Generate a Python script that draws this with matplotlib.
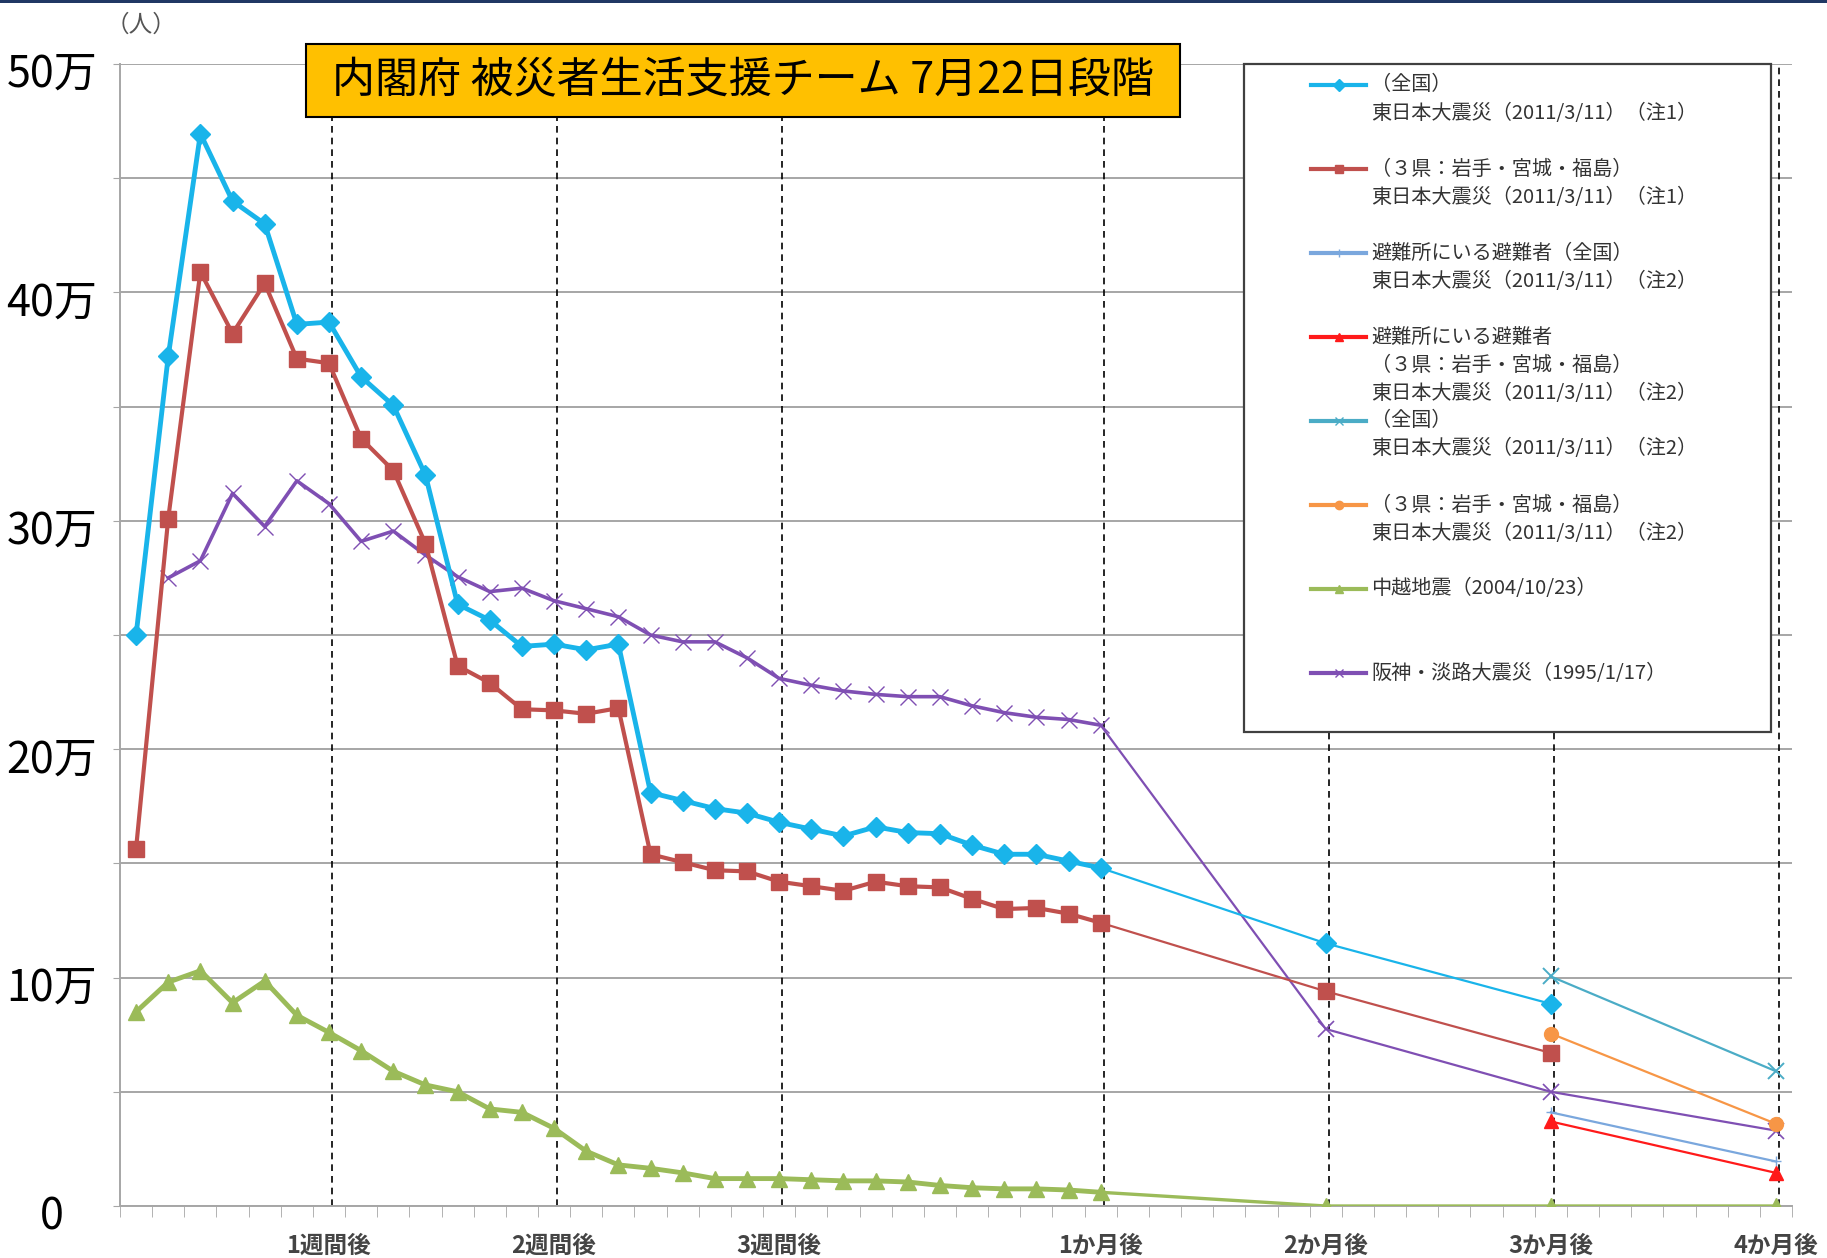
import matplotlib
matplotlib.use('Agg')
import matplotlib.pyplot as plt
import matplotlib.transforms as mtransforms
from matplotlib.lines import Line2D
from matplotlib.patches import Rectangle
import numpy as np

plt.rcParams['font.family'] = ['Noto Sans CJK JP', 'DejaVu Sans']

# ---- data (unit: 万人) ----
# category positions: day 0..30, then 2/3/4 months
day_idx = list(range(31))
month_idx = [37, 44, 51]          # 2か月後, 3か月後, 4か月後
tick_pos = [6, 13, 20, 30, 37, 44, 51]
tick_labels = ['1週間後', '2週間後', '3週間後', '1か月後', '2か月後', '3か月後', '4か月後']

# 東日本大震災 (全国) 注1
zenkoku_days = [25.0, 37.2, 46.95, 44.0, 43.0, 38.6, 38.7, 36.3, 35.05, 32.0,
                26.35, 25.65, 24.5, 24.6, 24.35, 24.6, 18.1, 17.75, 17.4, 17.2,
                16.8, 16.5, 16.2, 16.6, 16.35, 16.3, 15.8, 15.4, 15.4, 15.1, 14.8]
zenkoku_months = [11.5, 8.85]            # 2か月後, 3か月後

# 東日本大震災 (3県) 注1
sanken_days = [15.65, 30.1, 40.9, 38.2, 40.4, 37.1, 36.9, 33.6, 32.2, 29.0,
               23.65, 22.9, 21.75, 21.7, 21.55, 21.8, 15.4, 15.05, 14.7, 14.65,
               14.2, 14.0, 13.8, 14.2, 14.0, 13.95, 13.45, 13.0, 13.05, 12.8, 12.4]
sanken_months = [9.4, 6.7]

# 阪神・淡路大震災 (day 1..30)
hanshin_idx = list(range(1, 31))
hanshin_days = [27.5, 28.25, 31.2, 29.75, 31.75, 30.75, 29.1, 29.55, 28.5, 27.55,
                26.9, 27.05, 26.5, 26.15, 25.8, 25.0, 24.7, 24.7, 24.0, 23.1,
                22.8, 22.55, 22.4, 22.3, 22.3, 21.9, 21.6, 21.4, 21.3, 21.05]
hanshin_months = [7.75, 5.0, 3.3]

# 中越地震
chuetsu_days = [8.5, 9.8, 10.3, 8.9, 9.85, 8.35, 7.6, 6.8, 5.9, 5.3,
                5.0, 4.25, 4.1, 3.4, 2.4, 1.8, 1.65, 1.45, 1.2, 1.2,
                1.2, 1.15, 1.1, 1.1, 1.05, 0.9, 0.8, 0.75, 0.75, 0.7, 0.6]
chuetsu_months = [0.0, 0.0, 0.0]

# 注2 series (3か月後, 4か月後)
zenkoku2 = [10.05, 5.9]
sanken2 = [7.55, 3.6]
shelter_zenkoku = [4.1, 1.95]
shelter_sanken = [3.7, 1.45]

c_cyan = '#19B4EA'
c_brown = '#C0504D'
c_purple = '#7F4FB3'
c_green = '#9BBB59'
c_teal = '#4BACC6'
c_orange = '#F79646'
c_red = '#FF1A1A'
c_lblue = '#7AA7DD'

W, H = 1827, 1258
fig = plt.figure(figsize=(W / 100, H / 100), dpi=100)
ax = fig.add_axes([120 / W, 1 - 1206 / H, 1672 / W, 1142 / H])

# dashed verticals
for p in tick_pos:
    ax.axvline(p + 0.1, color='black', lw=1.2, dashes=(4, 3), zorder=1)

# thick daily lines
ax.plot(hanshin_idx, hanshin_days, color=c_purple, lw=2.6, marker='x', ms=11,
        mew=1.0, zorder=3)
ax.plot(day_idx, chuetsu_days, color=c_green, lw=3.5, marker='^', ms=12, zorder=3)
ax.plot(day_idx, sanken_days, color=c_brown, lw=3.0, marker='s', ms=12, zorder=4)
ax.plot(day_idx, zenkoku_days, color=c_cyan, lw=3.5, marker='D', ms=10, zorder=5)

# thin monthly continuation
ax.plot([30] + month_idx[:2], [zenkoku_days[-1]] + zenkoku_months, color=c_cyan,
        lw=1.6, marker='D', ms=10, markevery=[1, 2], zorder=5)
ax.plot([30] + month_idx[:2], [sanken_days[-1]] + sanken_months, color=c_brown,
        lw=1.6, marker='s', ms=12, markevery=[1, 2], zorder=4)
ax.plot([30] + month_idx, [hanshin_days[-1]] + hanshin_months, color=c_purple,
        lw=1.6, marker='x', ms=12, mew=1.2, markevery=[1, 2, 3], zorder=3)
ax.plot([30] + month_idx, [chuetsu_days[-1]] + chuetsu_months, color=c_green,
        lw=2.4, marker='^', ms=12, markevery=[1, 2, 3], zorder=3)

ax.plot(month_idx[1:], zenkoku2, color=c_teal, lw=1.6, marker='x', ms=12, mew=1.4, zorder=4)
ax.plot(month_idx[1:], sanken2, color=c_orange, lw=1.6, marker='o', ms=10, zorder=4)
ax.plot(month_idx[1:], shelter_zenkoku, color=c_lblue, lw=1.6, marker='+', ms=7, zorder=4)
ax.plot(month_idx[1:], shelter_sanken, color=c_red, lw=1.6, marker='^', ms=10, zorder=4)

# axes
ax.set_xlim(-0.5, 51.5)
ax.set_ylim(0, 50)
ax.set_yticks(np.arange(0, 51, 5))
ax.set_yticklabels(['0' if v == 0 else (f'{v}万' if v % 10 == 0 else '')
                    for v in range(0, 51, 5)])
ax.grid(axis='y', color='#A6A6A6', lw=1.4, zorder=0)
ax.set_axisbelow(True)
ax.tick_params(axis='y', length=5, color='#A6A6A6', labelsize=31, pad=44)
# labels centred, sitting a little below their gridlines
offset = mtransforms.ScaledTranslation(0, -6 / 100, fig.dpi_scale_trans)
for t in ax.get_yticklabels():
    t.set_horizontalalignment('center')
    t.set_transform(t.get_transform() + offset)

ax.set_xticks(tick_pos)
ax.set_xticklabels(tick_labels)
ax.set_xticks(np.arange(-0.5, 52, 1), minor=True)
ax.tick_params(axis='x', which='major', length=0, pad=20, labelsize=17,
               labelcolor='#444444')
ax.tick_params(axis='x', which='minor', length=8, color='#A6A6A6', direction='out')
for t in ax.get_xticklabels():
    t.set_fontweight('bold')

for s in ['top', 'right']:
    ax.spines[s].set_visible(False)
ax.spines['left'].set_color('#A6A6A6')
ax.spines['bottom'].set_color('#A6A6A6')
ax.spines['left'].set_linewidth(1.4)
ax.spines['bottom'].set_linewidth(1.4)


def fx(px):
    return px / W


def fy(py):
    return 1 - py / H


# unit label
fig.text(fx(141), fy(25), '（人）', fontsize=17, color='#555555', ha='center', va='center')

# title box
fig.add_artist(Rectangle((fx(306), fy(117)), fx(874), 73 / H, facecolor='#FFC000',
                         edgecolor='black', lw=1.5, transform=fig.transFigure, zorder=5))
fig.text(fx(743), fy(81), '内閣府 被災者生活支援チーム 7月22日段階', fontsize=31,
         ha='center', va='center', zorder=6)

# legend box
fig.add_artist(Rectangle((fx(1244), fy(732)), fx(1771 - 1244), (732 - 64) / H,
                         facecolor='white', edgecolor='#404040', lw=1.6,
                         transform=fig.transFigure, zorder=5))
legend_entries = [
    (c_cyan, 'D', ['（全国）', '東日本大震災（2011/3/11）（注1）']),
    (c_brown, 's', ['（３県：岩手・宮城・福島）', '東日本大震災（2011/3/11）（注1）']),
    (c_lblue, '+', ['避難所にいる避難者（全国）', '東日本大震災（2011/3/11）（注2）']),
    (c_red, '^', ['避難所にいる避難者', '（３県：岩手・宮城・福島）',
                  '東日本大震災（2011/3/11）（注2）']),
    (c_teal, 'x', ['（全国）', '東日本大震災（2011/3/11）（注2）']),
    (c_orange, 'o', ['（３県：岩手・宮城・福島）', '東日本大震災（2011/3/11）（注2）']),
    (c_green, '^', ['中越地震（2004/10/23）']),
    (c_purple, 'x', ['阪神・淡路大震災（1995/1/17）']),
]
for i, (col, mk, lines) in enumerate(legend_entries):
    y0 = 85 + 84 * i
    fig.add_artist(Line2D([fx(1311), fx(1366)], [fy(y0), fy(y0)], color=col, lw=3,
                          transform=fig.transFigure, zorder=6))
    fig.add_artist(Line2D([fx(1338.5)], [fy(y0)], color=col, marker=mk, ms=6,
                          lw=0, transform=fig.transFigure, zorder=6))
    for k, line in enumerate(lines):
        fig.text(fx(1371), fy(y0 + 28 * k), line, fontsize=14.5, color='#333333',
                 ha='left', va='center', zorder=7)

# top border line
fig.add_artist(Rectangle((0, fy(3)), 1, 3 / H, facecolor='#203864', edgecolor='none',
                         transform=fig.transFigure, zorder=5))

fig.savefig('out.png', dpi=100)
